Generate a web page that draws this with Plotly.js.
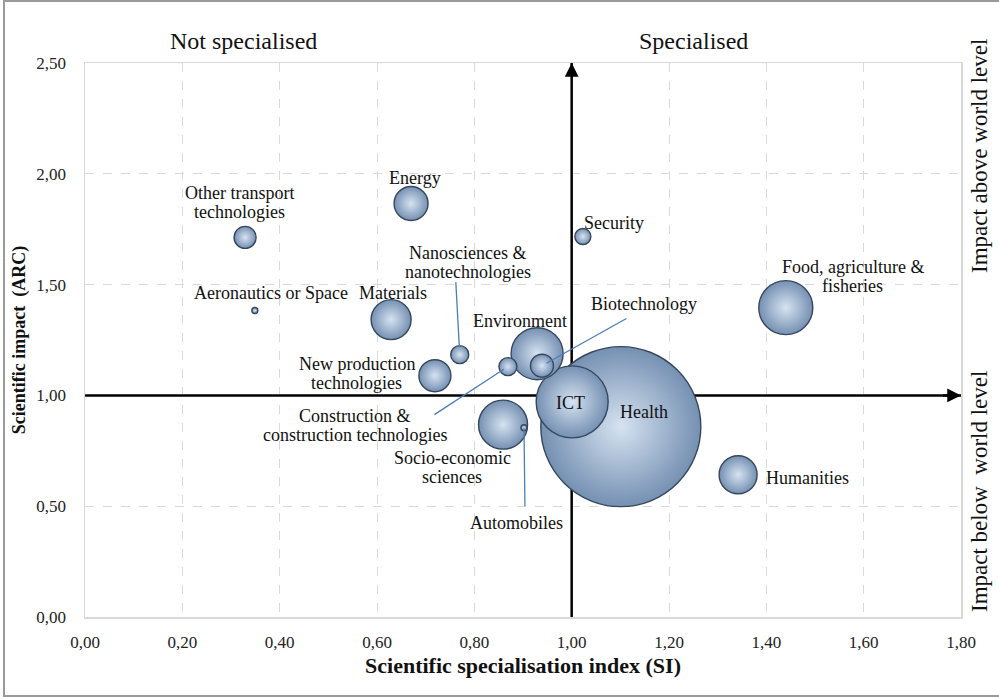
<!DOCTYPE html>
<html><head><meta charset="utf-8">
<script src="https://cdn.plot.ly/plotly-3.0.1.min.js"></script>
<style>
html,body{margin:0;padding:0;background:#fff;overflow:hidden}
#chart{width:999px;height:697px}
#frame{position:absolute;left:3px;top:0;width:1010px;height:697px;border:2px solid #9a9a9a;box-sizing:border-box;pointer-events:none}
</style></head><body>
<div id="chart"></div><div id="frame"></div>
<script>
// ---- data ----
const fields = [
  "Other transport\ntechnologies", "Energy", "Aeronautics or Space", "Materials",
  "Nanosciences &\nnanotechnologies", "New production\ntechnologies",
  "Construction &\nconstruction technologies", "Environment", "Biotechnology",
  "ICT", "Health", "Socio-economic\nsciences", "Automobiles", "Security",
  "Food, agriculture &\nfisheries", "Humanities"
];
const si  = [0.329, 0.670, 0.349, 0.629, 0.770, 0.719, 0.869, 0.929, 0.939, 1.001, 1.101, 0.859, 0.902, 1.023, 1.440, 1.342];
const arc = [1.713, 1.866, 1.383, 1.342, 1.184, 1.089, 1.130, 1.188, 1.134, 0.971, 0.859, 0.868, 0.854, 1.717, 1.396, 0.642];
const publications = [121, 289, 9, 400, 81, 256, 81, 676, 132, 1296, 6400, 600, 9, 64, 729, 361];
const xTickVals = [0, 0.2, 0.4, 0.6, 0.8, 1.0, 1.2, 1.4, 1.6, 1.8];
const yTickVals = [0, 0.5, 1.0, 1.5, 2.0, 2.5];
const quadrantTop = ["Not specialised", "Specialised"];
const quadrantSide = ["Impact above world level", "Impact below  world level"];

// ---- label placement (pixel offsets from bubble centre) ----
const labelDx = [-6, 4, 16, 2, 8, -78, -153, -17, 102, -2, 23, -51, -7, 31, 67, 69];
const labelDy = [-35, -25, -18, -27, -92, -2, 59, -33, -62, 1, -15, 43, 95, -14, -31, 3];
const leaders = [
  {i: 4, ax: -4, ay: -74, standoff: 8},
  {i: 8, ax: 86, ay: -48, standoff: 5},
  {i: 6, ax: -75, ay: 49, standoff: 5},
  {i: 12, ax: 1, ay: 80, standoff: 0}
];

const FONT = '"Liberation Serif", "Times New Roman", Times, serif';
const maxDiameter = 160;

// draw largest first so small bubbles sit on top
const order = publications.map((v, i) => i).sort((a, b) => publications[b] - publications[a]);

const trace = {
  type: "scatter", mode: "markers",
  x: order.map(i => si[i]), y: order.map(i => arc[i]),
  text: order.map(i => fields[i].replace("\n", " ")),
  hoverinfo: "text",
  marker: {
    size: order.map(i => publications[i]),
    sizemode: "area",
    sizeref: 2 * Math.max(...publications) / (maxDiameter * maxDiameter),
    sizemin: 2,
    color: "#7590b2",
    gradient: {type: "radial", color: "#d6e3f1"},
    line: {color: "#36475d", width: 1.4},
    opacity: 1
  },
  cliponaxis: false
};

const annotations = [];
fields.forEach((f, i) => {
  const lines = f.split("\n");
  lines.forEach((ln, k) => {
    const off = (k - (lines.length - 1) / 2) * 19;
    annotations.push({
      x: si[i], y: arc[i], xref: "x", yref: "y", text: ln, showarrow: false,
      xanchor: "center", yanchor: "middle",
      xshift: labelDx[i], yshift: -(labelDy[i] + off),
      font: {family: FONT, size: 18, color: "#111"}
    });
  });
});
leaders.forEach(l => {
  annotations.push({
    x: si[l.i], y: arc[l.i], xref: "x", yref: "y", text: "", showarrow: true,
    ax: l.ax, ay: l.ay, arrowhead: 0, arrowwidth: 1.3, arrowcolor: "#4a7ebb",
    standoff: l.standoff
  });
});
// arrowheads of the quadrant axes
annotations.push({x: 1, y: 2.5, xref: "x", yref: "y", ax: 1, ay: 2.44, axref: "x", ayref: "y",
  text: "", showarrow: true, arrowhead: 2, arrowsize: 1.1, arrowwidth: 2.5, arrowcolor: "#000"});
annotations.push({x: 1.8, y: 1, xref: "x", yref: "y", ax: 1.76, ay: 1, axref: "x", ayref: "y",
  text: "", showarrow: true, arrowhead: 2, arrowsize: 1.1, arrowwidth: 2.5, arrowcolor: "#000"});
// quadrant captions
const capTop = (617 - 41) / 554;
annotations.push({x: (243 - 85) / 876, y: capTop, xref: "paper", yref: "paper", text: quadrantTop[0], showarrow: false,
  xanchor: "center", yanchor: "middle", font: {family: FONT, size: 24, color: "#111"}});
annotations.push({x: (693 - 85) / 876, y: capTop, xref: "paper", yref: "paper", text: quadrantTop[1], showarrow: false,
  xanchor: "center", yanchor: "middle", font: {family: FONT, size: 24, color: "#111"}});
annotations.push({x: (979 - 85) / 876, y: (617 - 156) / 554, xref: "paper", yref: "paper", text: quadrantSide[0], showarrow: false,
  xanchor: "center", yanchor: "middle", textangle: -90, font: {family: FONT, size: 23, color: "#111"}});
annotations.push({x: (979 - 85) / 876, y: (617 - 492) / 554, xref: "paper", yref: "paper", text: quadrantSide[1], showarrow: false,
  xanchor: "center", yanchor: "middle", textangle: -90, font: {family: FONT, size: 23, color: "#111"}});

const shapes = [
  {type: "line", xref: "x", yref: "y", x0: 0, x1: 1.8, y0: 1, y1: 1, layer: "between", line: {color: "#000", width: 2.5}},
  {type: "line", xref: "x", yref: "y", x0: 1, x1: 1, y0: 0, y1: 2.5, layer: "between", line: {color: "#000", width: 2.5}}
];

const axisCommon = {
  showgrid: true, gridcolor: "#d9d9d9", griddash: "dash", gridwidth: 1,
  zeroline: false, showline: true, mirror: true, linecolor: "#d9d9d9", linewidth: 1.5,
  ticks: "", tickformat: ".2f", fixedrange: true,
  tickfont: {family: FONT, size: 17, color: "#222"}
};

const layout = {
  width: 999, height: 697,
  margin: {l: 85, r: 38, t: 63, b: 80},
  paper_bgcolor: "#fff", plot_bgcolor: "#fff",
  separators: ", ",
  showlegend: false,
  font: {family: FONT},
  xaxis: Object.assign({}, axisCommon, {
    range: [0, 1.8], tickvals: xTickVals, ticklabelstandoff: 9,
    title: {text: "<b>Scientific specialisation index (SI)</b>", font: {family: FONT, size: 22, color: "#111"}, standoff: 6}
  }),
  yaxis: Object.assign({}, axisCommon, {
    range: [0, 2.5], tickvals: yTickVals, ticklabelstandoff: 14,
    title: {text: "<b>Scientific impact  (ARC)</b>", font: {family: FONT, size: 18, color: "#111"}, standoff: 6}
  }),
  annotations: annotations,
  shapes: shapes
};

Plotly.newPlot("chart", [trace], layout, {displayModeBar: false, staticPlot: true});
</script>
</body></html>
